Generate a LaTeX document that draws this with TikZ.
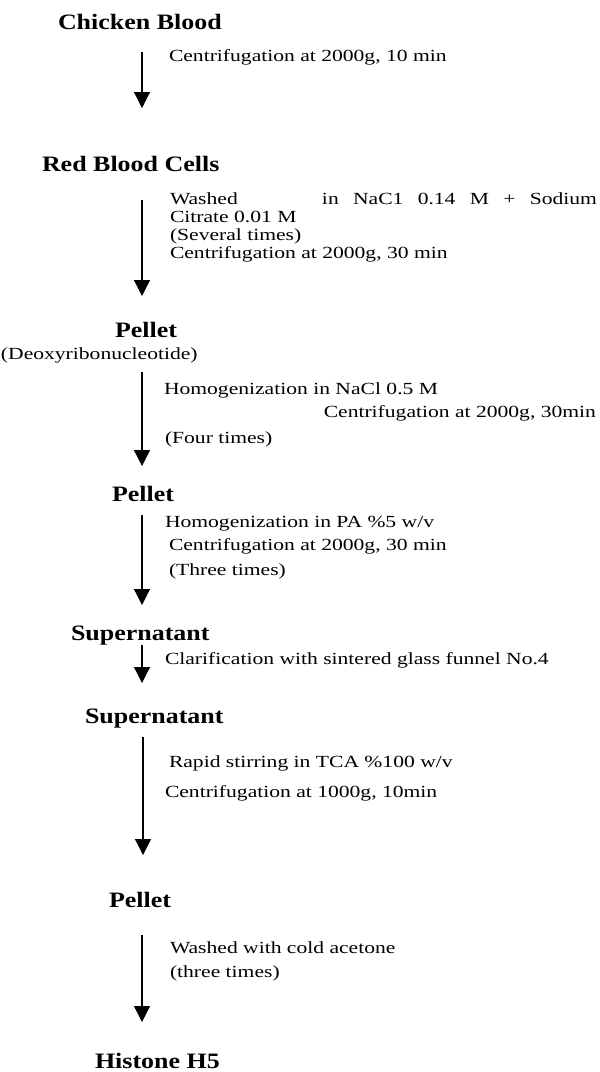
\documentclass[tikz,border=0pt]{standalone}
\usepackage{fontspec}
\setmainfont{Liberation Serif}[FakeStretch=1.27]
\newfontfamily\hdfont{Liberation Serif}[FakeStretch=1.18]
\usetikzlibrary{arrows.meta}
\begin{document}
\begin{tikzpicture}[x=1pt,y=-1pt,
  txt/.style={anchor=base west,inner sep=0pt,outer sep=0pt,font=\fontsize{17}{20}\selectfont},
  hd/.style={anchor=base west,inner sep=0pt,outer sep=0pt,font=\hdfont\bfseries\fontsize{22}{26}\selectfont},
  arr/.style={line width=1.2pt,-{Triangle[width=16pt,length=16pt]}}]
\useasboundingbox (0,0) rectangle (600,1072);
% headings
\node[hd] (chicken) at (58,29) {Chicken Blood};
\node[hd] (rbc) at (42,171) {Red Blood Cells};
\node[hd] (pel1) at (115,337) {Pellet};
\node[txt] (deoxy) at (1,359) {(Deoxyribonucleotide)};
\node[hd] (pel2) at (112,501) {Pellet};
\node[hd] (sup1) at (71,640) {Supernatant};
\node[hd] (sup2) at (85,723) {Supernatant};
\node[hd] (pel3) at (109,907) {Pellet};
\node[hd] (hist) at (95,1068) {Histone H5};
% step texts
\node[txt] (s1) at (169,61) {Centrifugation at 2000g, 10 min};
\node[txt] (s2a) at (170,204) {\makebox[152pt][l]{Washed}\makebox[275pt][s]{in NaC1 0.14 M + Sodium}};
\node[txt] (s2b) at (170,222) {Citrate 0.01 M};
\node[txt] (s2c) at (170,240) {(Several times)};
\node[txt] (s2d) at (170,258) {Centrifugation at 2000g, 30 min};
\node[txt] (s3a) at (164,394) {Homogenization in NaCl 0.5 M};
\node[txt,anchor=base east] (s3b) at (596,417) {Centrifugation at 2000g, 30min};
\node[txt] (s3c) at (165,443) {(Four times)};
\node[txt] (s4a) at (165,527) {Homogenization in PA \%5 w/v};
\node[txt] (s4b) at (169,550) {Centrifugation at 2000g, 30 min};
\node[txt] (s4c) at (169,575) {(Three times)};
\node[txt] (s5) at (165,664) {Clarification with sintered glass funnel No.4};
\node[txt] (s6a) at (169,767) {Rapid stirring in TCA \%100 w/v};
\node[txt] (s6b) at (165,797) {Centrifugation at 1000g, 10min};
\node[txt] (s7a) at (170,953) {Washed with cold acetone};
\node[txt] (s7b) at (170,977) {(three times)};
% arrow ends
\coordinate (a1s) at (142,52);  \coordinate (a1e) at (142,108);
\coordinate (a2s) at (142,200); \coordinate (a2e) at (142,296);
\coordinate (a3s) at (142,372); \coordinate (a3e) at (142,466);
\coordinate (a4s) at (142,515); \coordinate (a4e) at (142,605);
\coordinate (a5s) at (142,645); \coordinate (a5e) at (142,683);
\coordinate (a6s) at (143,737); \coordinate (a6e) at (143,855);
\coordinate (a7s) at (142,935); \coordinate (a7e) at (142,1022);
\draw[arr] (a1s) -- (a1e);
\draw[arr] (a2s) -- (a2e);
\draw[arr] (a3s) -- (a3e);
\draw[arr] (a4s) -- (a4e);
\draw[arr] (a5s) -- (a5e);
\draw[arr] (a6s) -- (a6e);
\draw[arr] (a7s) -- (a7e);
\end{tikzpicture}
\end{document}
